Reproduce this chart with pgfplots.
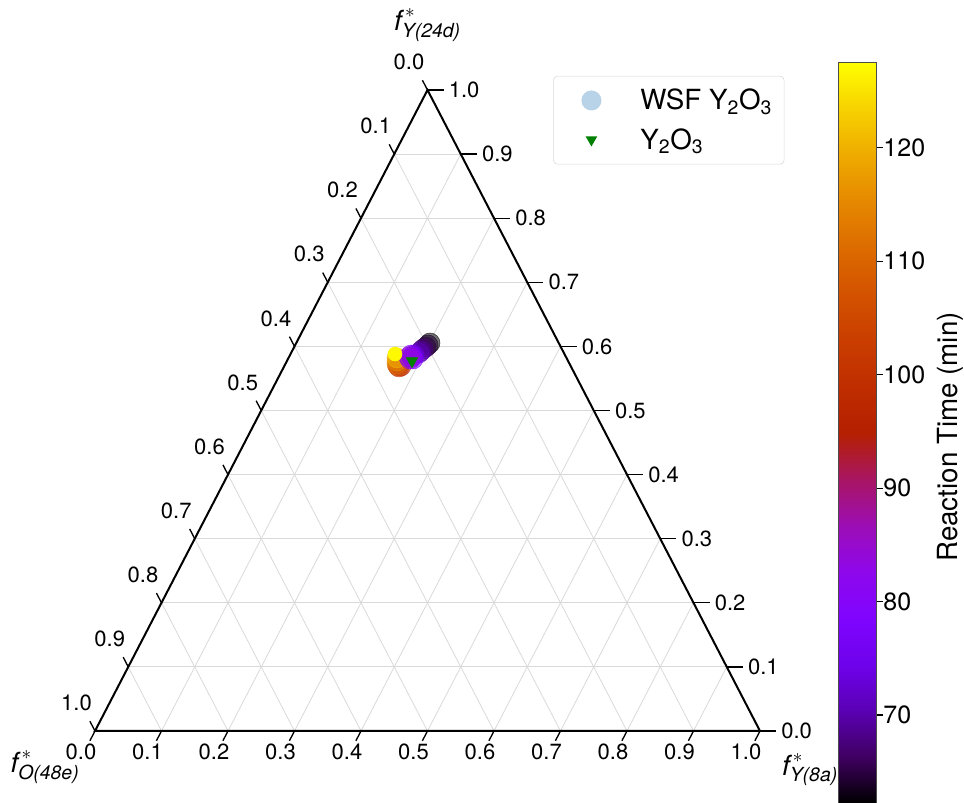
\documentclass[border=0pt]{standalone}
\usepackage{amsmath}
\usepackage{fontspec}
\setmainfont{TeX Gyre Heros}
\usepackage{pgfplots}
\usepackage{pgfplotstable}
\pgfplotsset{compat=1.18}
\pgfplotsset{/pgf/number format/assume math mode=true}

\definecolor{wsfblue}{RGB}{184,210,232}
\definecolor{gridgray}{gray}{0.85}
\definecolor{ygreen}{RGB}{0,128,0}

\pgfplotsset{colormap={gnuplot}{
 rgb=(0,0,0) rgb=(0.25,0.00024,0.3827) rgb=(0.3536,0.00195,0.7071) rgb=(0.4330,0.00659,0.9239)
 rgb=(0.5,0.01563,1) rgb=(0.5590,0.03052,0.9239) rgb=(0.6124,0.05273,0.7071) rgb=(0.6614,0.08374,0.3827)
 rgb=(0.7071,0.125,0) rgb=(0.75,0.17798,0) rgb=(0.7906,0.24414,0) rgb=(0.8292,0.32495,0)
 rgb=(0.8660,0.42188,0) rgb=(0.9014,0.53638,0) rgb=(0.9354,0.66992,0) rgb=(0.9682,0.82397,0) rgb=(1,1,0)}}

% a = f*_Y(8a), b = f*_Y(24d), c = f*_O(48e), t = reaction time (min)
\pgfplotstableread{
a b c t
0.2011 0.6053 0.1936 62.5
0.1997 0.6022 0.1981 64
0.1982 0.5991 0.2027 65
0.1953 0.5959 0.2088 67
0.1938 0.5928 0.2134 69
0.1924 0.5897 0.2179 71
0.1755 0.5694 0.2551 95
0.1732 0.5679 0.2589 100
0.1709 0.5694 0.2597 105
0.1679 0.5725 0.2596 110
0.1655 0.5772 0.2573 115
0.1632 0.5819 0.2549 120
0.1864 0.5866 0.2270 74
0.1850 0.5835 0.2315 76
0.1880 0.5803 0.2317 78
0.1819 0.5866 0.2315 80
0.1835 0.5803 0.2362 82
0.1805 0.5835 0.2360 84
}\wsfdata
\pgfplotstableread{
a b c t
0.1571 0.5881 0.2548 127
}\wsflast
\pgfplotstableread{
a b c
0.1881 0.5772 0.2347
}\ydata

\newcommand\tl[1]{\ifnum#1<10 0.#1\else 1.0\fi}

\begin{document}
\begin{tikzpicture}
\begin{axis}[
  scale only axis, width=498.75pt, height=480.75pt,
  xmin=0, xmax=1, ymin=0, ymax=1,
  axis line style={draw=none}, xtick=\empty, ytick=\empty,
  clip=false,
  colormap name=gnuplot,
  point meta min=62.24, point meta max=127.56,
  colorbar,
  colorbar/width=28.9pt,
  colorbar shift/.style={},
  colorbar style={
    at={(parent axis.north east)}, anchor=north west,
    xshift=58.5pt, yshift=21pt,
    scale only axis, height=555.75pt,
    xtick=\empty,
    ytick={70,80,...,120}, ytick pos=right, yticklabel pos=right,
    tick align=outside, major tick length=4.5pt,
    tick style={black, line width=0.8pt},
    yticklabel style={font=\fontsize{18.75}{20}\selectfont, inner sep=0.5pt},
    axis line style={draw=black!70, line width=0.6pt},
  },
  legend style={at={(0.689,1.022)}, anchor=north west, draw=black!15,
    rounded corners=3pt, fill=white, inner xsep=0pt, inner ysep=3.5pt,
    row sep=0pt, font=\fontsize{20.8}{24}\selectfont,
    nodes={inner sep=0pt, anchor=west}},
  legend cell align=left,
]
% grid
\pgfplotsinvokeforeach{1,...,9}{
  \draw[gridgray, line width=0.6pt] (axis cs:{#1/20},{#1/10}) -- (axis cs:{1-#1/20},{#1/10});
  \draw[gridgray, line width=0.6pt] (axis cs:{#1/10},0) -- (axis cs:{(1+#1/10)/2},{1-#1/10});
  \draw[gridgray, line width=0.6pt] (axis cs:{(1-#1/10)/2},{1-#1/10}) -- (axis cs:{1-#1/10},0);
}
% data
\addplot[scatter, only marks, mark=*, mark size=7.5pt, point meta=\thisrow{t},
  scatter/use mapped color={draw=mapped color, fill=mapped color},
  mark options={fill opacity=0.55, draw opacity=0.7}, forget plot]
  table[x expr=\thisrow{a}+0.5*\thisrow{b}, y expr=\thisrow{b}] {\wsfdata};
\addplot[scatter, only marks, mark=*, mark size=5.25pt, point meta=\thisrow{t},
  scatter/use mapped color={draw=mapped color, fill=mapped color}, forget plot]
  table[x expr=\thisrow{a}+0.5*\thisrow{b}, y expr=\thisrow{b}] {\wsflast};
\addplot[only marks, mark=triangle*, mark size=5pt, color=ygreen,
  mark options={rotate=180}, forget plot]
  table[x expr=\thisrow{a}+0.5*\thisrow{b}, y expr=\thisrow{b}] {\ydata};
% legend
\addlegendimage{legend image code/.code={
  \path[draw=none, fill=none] (0pt,-14.75pt) rectangle (65.25pt,14.75pt);
  \fill[wsfblue, draw=none] (28.5pt,0pt) circle (7.5pt);}}
\addlegendentry{WSF Y\textsubscript{2}O\textsubscript{3}\hspace*{9pt}}
\addlegendimage{legend image code/.code={
  \path[draw=none, fill=none] (0pt,-14.75pt) rectangle (65.25pt,14.75pt);
  \fill[ygreen, draw=none, sharp corners] (28.5pt,-5pt) -- ++(4.33pt,7.5pt) -- ++(-8.66pt,0pt) -- cycle;}}
\addlegendentry{Y\textsubscript{2}O\textsubscript{3}}
% frame
\draw[black, line width=1.5pt] (axis cs:0,0) -- (axis cs:1,0) -- (axis cs:0.5,1) -- cycle;
% ticks and labels
\pgfplotsinvokeforeach{0,...,10}{
  \draw[black, line width=1pt] (axis cs:{#1/10},0) -- ++(-3.8pt,-7.3pt);
  \node[inner sep=0pt, font=\fontsize{16.5}{18}\selectfont] at ([shift={(-10.5pt,-15.75pt)}]axis cs:{#1/10},0) {\tl{#1}};
  \draw[black, line width=1pt] (axis cs:{(1-#1/10)/2},{1-#1/10}) -- ++(-3.8pt,7.3pt);
  \node[inner sep=0pt, font=\fontsize{16.5}{18}\selectfont] at ([shift={(-13.9pt,21pt)}]axis cs:{(1-#1/10)/2},{1-#1/10}) {\tl{#1}};
  \draw[black, line width=1pt] (axis cs:{1-#1/20},{#1/10}) -- ++(12pt,0pt);
  \node[inner sep=0pt, anchor=west, font=\fontsize{16.5}{18}\selectfont] at ([shift={(15.75pt,0pt)}]axis cs:{1-#1/20},{#1/10}) {\tl{#1}};
}
% corner labels
\node[font=\fontsize{20.8}{24}\selectfont] at ([shift={(0pt,48.75pt)}]axis cs:0.5,1) {$\textit{f}^{\,*}_{\textit{Y(24d)}}$};
\node[font=\fontsize{20.8}{24}\selectfont] at ([shift={(-37.5pt,-27pt)}]axis cs:0,0) {$\textit{f}^{\,*}_{\textit{O(48e)}}$};
\node[font=\fontsize{20.8}{24}\selectfont] at ([shift={(37.5pt,-29pt)}]axis cs:1,0) {$\textit{f}^{\,*}_{\textit{Y(8a)}}$};
% colorbar label
\node[rotate=90, anchor=north, inner sep=0pt, font=\fontsize{20.8}{24}\selectfont] at ([xshift=132.75pt]axis cs:1,0.4587) {Reaction Time (min)};
\end{axis}
\pgfresetboundingbox
\path[use as bounding box] (current axis.south west) ++(-71.25pt,-54pt) rectangle ++(723pt,602.25pt);
\end{tikzpicture}
\end{document}
